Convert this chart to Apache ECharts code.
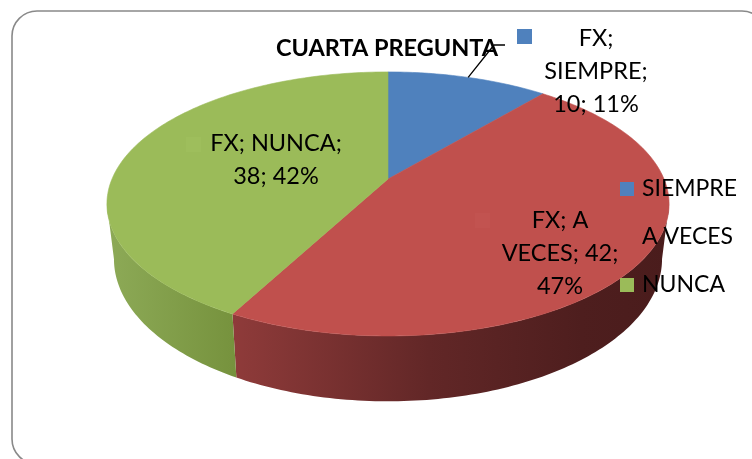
<!DOCTYPE html>
<html><head><meta charset="utf-8">
<script src="https://cdn.jsdelivr.net/npm/echarts@6/dist/echarts.min.js"></script>
<style>html,body{margin:0;padding:0;background:#fff}#c{width:752px;height:459px}</style>
</head><body><div id="c"></div>
<script>
// ---- data ----
const categories = ['SIEMPRE', 'A VECES', 'NUNCA'];
const values = [10, 42, 38];
const seriesName = 'FX';
const chartTitle = 'CUARTA PREGUNTA';

// ---- styles ----
const topColors = ['#4F81BD', '#C0504D', '#9BBB59'];
const keyColors = ['#4F81BD', '#C25350', '#9EBE5C'];
const sideStops = [
  [{offset: 0, color: '#3A6397'}, {offset: 1, color: '#2B4A72'}],
  [{offset: 0, color: '#8F3B3A'}, {offset: 0.45, color: '#622727'}, {offset: 0.8, color: '#4E1E1E'}, {offset: 1, color: '#4A1C1C'}],
  [{offset: 0, color: '#8DAA57'}, {offset: 1, color: '#76923D'}]
];
const FONT = 'Lato';

// ---- geometry of the perspective disc ----
const G = {cx: 388, cy: 179, A: 276, B: 127.3, k: 0.189, D: 53, bx: 0.975};
function proj(deg, bottom) {
  const t = deg * Math.PI / 180;
  const u = Math.sin(t), v = Math.cos(t);
  const w = 1 + G.k * v;
  let x = G.cx + G.A * u / w, y = G.cy - G.B * v / w;
  if (bottom) { x = G.cx + (x - G.cx) * G.bx; y += G.D / w; }
  return [x, y];
}
const total = values.reduce((a, b) => a + b, 0);
const pcts = values.map(v => Math.round(v / total * 100));
const starts = []; let acc = 0;
values.forEach(v => { starts.push(acc / total * 360); acc += v; });
const ends = values.map((v, i) => starts[i] + v / total * 360);
function arc(a, b, bottom) {
  const n = Math.max(2, Math.ceil(Math.abs(b - a)));
  const pts = [];
  for (let i = 0; i <= n; i++) pts.push(proj(a + (b - a) * i / n, bottom));
  return pts;
}
const asinK = Math.asin(G.k) * 180 / Math.PI;
const visL = 90 + asinK, visR = 270 - asinK;

function renderSide(params) {
  const i = params.dataIndex;
  const a = Math.max(starts[i], visL), b = Math.min(ends[i], visR);
  if (b <= a) return {type: 'group', children: []};
  const pts = arc(a, b, false).concat(arc(b, a, true));
  const xs = pts.map(p => p[0]);
  return {
    type: 'polygon', shape: {points: pts},
    style: {fill: new echarts.graphic.LinearGradient(Math.min(...xs), 0, Math.max(...xs), 0, sideStops[i], true)}
  };
}
function renderTop(params) {
  const i = params.dataIndex;
  const pts = [[G.cx, G.cy]].concat(arc(starts[i], ends[i], false));
  return {type: 'polygon', shape: {points: pts},
    style: {fill: topColors[i], stroke: topColors[i], lineWidth: 0.6}};
}

// ---- label text built from data ----
const wrapChars = [9, 10, 10];
function labelText(i) {
  const words = (seriesName + '; ' + categories[i] + '; ' + values[i] + '; ' + pcts[i] + '%').split(' ');
  const lines = []; let cur = '';
  words.forEach(w => {
    if (!cur) cur = w;
    else if ((cur + ' ' + w).length <= wrapChars[i]) cur += ' ' + w;
    else { lines.push(cur); cur = w; }
  });
  lines.push(cur);
  return lines.join('\n');
}
// label layout (centre of text block, key square position)
const labelPos = [
  {x: 596, y: 71, kx: 517, ky: 29},
  {x: 560, y: 253, kx: 475, ky: 213},
  {x: 276, y: 160, kx: 186, ky: 137}
];

const graphics = [];
// chart border
graphics.push({type: 'rect', shape: {x: 12, y: 11, width: 755, height: 453, r: 25},
  style: {fill: 'none', stroke: '#898989', lineWidth: 1.6}, z: 1});
// title
graphics.push({type: 'text', x: 387, y: 48, z: 10,
  style: {text: chartTitle, font: 'bold 23.5px ' + FONT, fill: '#000', align: 'center', verticalAlign: 'middle'}});
// leader line for first slice
const mid0 = proj((starts[0] + ends[0]) / 2, false);
graphics.push({type: 'polyline', z: 9, shape: {points: [mid0, [494, 45], [505, 45]]},
  style: {stroke: '#000', lineWidth: 1.3, fill: 'none'}});
// data labels
categories.forEach((c, i) => {
  const p = labelPos[i];
  graphics.push({type: 'rect', z: 10, shape: {x: p.kx, y: p.ky, width: 15, height: 15}, style: {fill: keyColors[i]}});
  graphics.push({type: 'text', x: p.x, y: p.y, z: 10,
    style: {text: labelText(i), font: '23.5px ' + FONT, fill: '#000', align: 'center', verticalAlign: 'middle', lineHeight: 33}});
});
// legend
categories.forEach((c, i) => {
  const y = 189 + i * 48;
  graphics.push({type: 'rect', z: 10, shape: {x: 620, y: y - 7, width: 14, height: 14}, style: {fill: topColors[i]}});
  graphics.push({type: 'text', x: 642, y: y, z: 10,
    style: {text: c, font: '23px ' + FONT, fill: '#000', align: 'left', verticalAlign: 'middle'}});
});

const chart = echarts.init(document.getElementById('c'), null, {renderer: 'canvas'});
const data = values.map((v, i) => ({name: categories[i], value: v}));
chart.setOption({
  backgroundColor: '#fff',
  animation: false,
  series: [
    {type: 'custom', coordinateSystem: 'none', renderItem: renderSide, data: data, z: 2, silent: true},
    {type: 'custom', coordinateSystem: 'none', renderItem: renderTop, data: data, z: 3, silent: true}
  ],
  graphic: graphics
});
</script></body></html>
